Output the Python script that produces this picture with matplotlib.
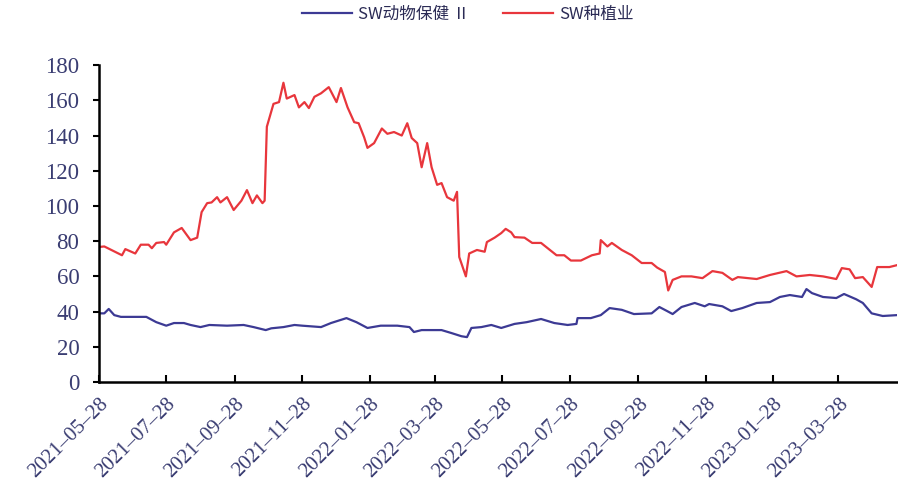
import matplotlib
matplotlib.use("Agg")
import matplotlib.pyplot as plt
import pandas as pd

# ---- data ----
red_dates = ["2021-05-28", "2021-06-02", "2021-06-18", "2021-06-21", "2021-06-30", "2021-07-05",
             "2021-07-12", "2021-07-15", "2021-07-19", "2021-07-26", "2021-07-28", "2021-08-04",
             "2021-08-11", "2021-08-19", "2021-08-25", "2021-08-29", "2021-09-03", "2021-09-07",
             "2021-09-12", "2021-09-15", "2021-09-21", "2021-09-27", "2021-10-04", "2021-10-09",
             "2021-10-14", "2021-10-18", "2021-10-23", "2021-10-25", "2021-10-27", "2021-11-02",
             "2021-11-07", "2021-11-11", "2021-11-14", "2021-11-21", "2021-11-25", "2021-11-30",
             "2021-12-04", "2021-12-09", "2021-12-15", "2021-12-22", "2021-12-29", "2022-01-02",
             "2022-01-08", "2022-01-14", "2022-01-18", "2022-01-23", "2022-01-26", "2022-02-01",
             "2022-02-08", "2022-02-13", "2022-02-19", "2022-02-26", "2022-03-03", "2022-03-07",
             "2022-03-12", "2022-03-16", "2022-03-21", "2022-03-25", "2022-03-30", "2022-04-03",
             "2022-04-08", "2022-04-14", "2022-04-17", "2022-04-19", "2022-04-25", "2022-04-28",
             "2022-05-05", "2022-05-12", "2022-05-14", "2022-05-21", "2022-05-27", "2022-05-31",
             "2022-06-05", "2022-06-08", "2022-06-17", "2022-06-24", "2022-07-02", "2022-07-08",
             "2022-07-16", "2022-07-23", "2022-07-29", "2022-08-07", "2022-08-17", "2022-08-24",
             "2022-08-25", "2022-08-31", "2022-09-04", "2022-09-13", "2022-09-22", "2022-10-01",
             "2022-10-10", "2022-10-15", "2022-10-22", "2022-10-25", "2022-10-29", "2022-11-06",
             "2022-11-15", "2022-11-25", "2022-12-04", "2022-12-13", "2022-12-22", "2022-12-27",
             "2023-01-13", "2023-01-25", "2023-02-09", "2023-02-18", "2023-03-02", "2023-03-14",
             "2023-03-26", "2023-03-31", "2023-04-07", "2023-04-12", "2023-04-19", "2023-04-27",
             "2023-05-02", "2023-05-13", "2023-05-20"]
red_values = [76.7, 77, 72, 75.5, 73, 78,
              78, 76, 79, 79.5, 78, 85,
              87.5, 80.6, 82, 96.5, 101.6, 102,
              105, 102, 105, 97.7, 103, 109,
              101.6, 106, 101.6, 103, 145, 158,
              159, 170, 161, 163, 156, 159,
              155.6, 162, 164, 167.5, 159, 167,
              156, 147.6, 147, 139, 133, 135.7,
              144, 141, 142, 140, 147, 138.6,
              135.7, 122, 135.7, 122, 112, 113,
              105, 103, 108, 71, 60, 73,
              75, 74, 79.5, 82, 84.6, 87,
              85, 82.3, 82, 79, 79, 76,
              72, 72, 69, 69, 72, 73,
              80.6, 77, 79, 75, 72, 67.6,
              67.6, 65, 62.5, 52, 58, 60,
              60, 59, 63, 62, 58, 59.6,
              58.5, 60.8, 63, 60, 60.8, 60,
              58.5, 64.7, 64, 59, 59.6, 54,
              65.3, 65.3, 66.4]

blue_dates = ["2021-05-28", "2021-06-02", "2021-06-06", "2021-06-11", "2021-06-17", "2021-06-22",
              "2021-07-10", "2021-07-19", "2021-07-28", "2021-08-04", "2021-08-13", "2021-08-19",
              "2021-08-28", "2021-09-05", "2021-09-21", "2021-10-06", "2021-10-15", "2021-10-26",
              "2021-10-31", "2021-11-11", "2021-11-21", "2021-11-28", "2021-12-15", "2021-12-24",
              "2022-01-07", "2022-01-16", "2022-01-26", "2022-02-07", "2022-02-22", "2022-03-05",
              "2022-03-09", "2022-03-16", "2022-04-03", "2022-04-12", "2022-04-21", "2022-04-26",
              "2022-04-30", "2022-05-09", "2022-05-18", "2022-05-27", "2022-06-08", "2022-06-19",
              "2022-07-02", "2022-07-14", "2022-07-26", "2022-08-03", "2022-08-04", "2022-08-16",
              "2022-08-25", "2022-09-02", "2022-09-13", "2022-09-24", "2022-10-10", "2022-10-17",
              "2022-10-24", "2022-10-29", "2022-11-06", "2022-11-18", "2022-11-27", "2022-12-01",
              "2022-12-13", "2022-12-21", "2022-12-31", "2023-01-13", "2023-01-25", "2023-02-03",
              "2023-02-12", "2023-02-23", "2023-02-27", "2023-03-04", "2023-03-14", "2023-03-26",
              "2023-04-02", "2023-04-13", "2023-04-19", "2023-04-27", "2023-05-07", "2023-05-20"]
blue_values = [39, 39, 41.5, 38, 37, 37,
               37, 34, 32, 33.5, 33.5, 32.4,
               31.2, 32.4, 32, 32.4, 31.2, 29.5,
               30.5, 31.2, 32.4, 32, 31.2, 33.5,
               36.3, 34, 30.7, 32, 32, 31.2,
               28.4, 29.5, 29.5, 27.8, 26, 25.5,
               30.7, 31.2, 32.4, 30.7, 33, 34,
               35.8, 33.5, 32.4, 33, 36.3, 36.3,
               38, 42, 41, 38.6, 39, 42.6,
               40.3, 38.6, 42.6, 44.9, 43, 44.3,
               43, 40.3, 42, 44.9, 45.4, 48.3,
               49.4, 48.3, 52.8, 50.5, 48.3, 47.7,
               50, 47, 44.9, 39, 37.5, 38]

series_names = ["SW动物保健 Ⅱ", "SW种植业"]
tick_dates = ["2021-05-28", "2021-07-28", "2021-09-28", "2021-11-28", "2022-01-28", "2022-03-28",
              "2022-05-28", "2022-07-28", "2022-09-28", "2022-11-28", "2023-01-28", "2023-03-28"]
tick_labels = ["2021–05–28", "2021–07–28", "2021–09–28", "2021–11–28", "2022–01–28", "2022–03–28",
               "2022–05–28", "2022–07–28", "2022–09–28", "2022–11–28", "2023–01–28", "2023–03–28"]
y_ticks = [0, 20, 40, 60, 80, 100, 120, 140, 160, 180]

# ---- styling ----
BLUE = "#3c3a94"
RED = "#e8363c"
LABEL = "#3a3d72"
SERIF = ["Liberation Serif", "DejaVu Serif"]

fig = plt.figure(figsize=(8.98, 5.01), dpi=100)
ax = fig.add_axes([0.110, 0.2375, 0.889, 0.6325])

ax.plot(pd.to_datetime(blue_dates), blue_values, color=BLUE, lw=1.6, label=series_names[0])
ax.plot(pd.to_datetime(red_dates), red_values, color=RED, lw=1.6, label=series_names[1])

ax.set_ylim(0, 180)
ax.set_yticks(y_ticks)
ax.set_yticklabels([str(v) for v in y_ticks])
ax.set_xlim(pd.Timestamp(red_dates[0]), pd.Timestamp(red_dates[-1]))
ax.set_xticks(pd.to_datetime(tick_dates))
ax.set_xticklabels(tick_labels, rotation=45, ha="right", rotation_mode="anchor")

for s in ["top", "right"]:
    ax.spines[s].set_visible(False)
for s in ["left", "bottom"]:
    ax.spines[s].set_linewidth(1.8)
    ax.spines[s].set_color("black")

ax.tick_params(axis="y", direction="out", length=4, width=1.5, pad=10,
               labelsize=16.5, labelcolor=LABEL)
ax.tick_params(axis="x", direction="in", length=5, width=1.5, pad=9,
               labelsize=15, labelcolor=LABEL)
for lab in ax.get_xticklabels() + ax.get_yticklabels():
    lab.set_fontfamily(SERIF)

leg = ax.legend(loc="upper center", bbox_to_anchor=(0.4625, 1.235), ncol=2, frameon=False,
                handlelength=3.0, columnspacing=2.0, handletextpad=0.35,
                prop={"family": ["Noto Sans CJK SC", "DejaVu Sans"], "size": 12})
for t in leg.get_texts():
    t.set_color("#2b2b55")

fig.savefig("out.png", dpi=100)
